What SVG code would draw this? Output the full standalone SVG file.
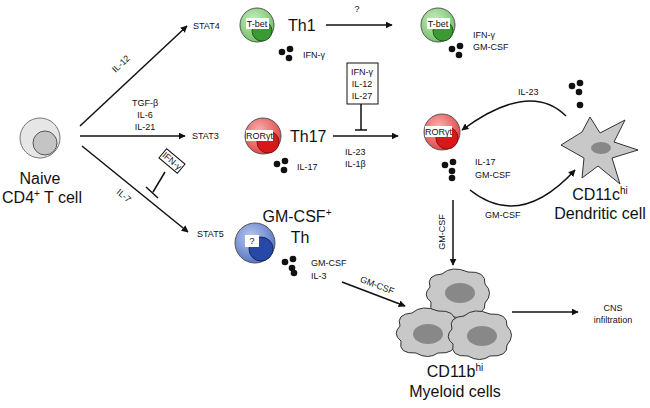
<svg xmlns="http://www.w3.org/2000/svg" width="650" height="408" viewBox="0 0 650 408">
<style>
text{font-family:"Liberation Sans",Arial,sans-serif;fill:#111}
.s{font-size:9px}.m{font-size:10px}.b{font-size:16px}
.ln{stroke:#111;stroke-width:1.5;fill:none}
</style>
<defs>
<marker id="ah" viewBox="0 0 10 10" refX="9" refY="5" markerWidth="7" markerHeight="7" orient="auto" markerUnits="userSpaceOnUse"><path d="M0,0L10,5L0,10z" fill="#111"/></marker>
<radialGradient id="gg" cx="0.4" cy="0.35" r="0.7"><stop offset="0" stop-color="#c8ecc0"/><stop offset="1" stop-color="#6cc060"/></radialGradient>
<radialGradient id="gr" cx="0.4" cy="0.35" r="0.7"><stop offset="0" stop-color="#f8b0b0"/><stop offset="1" stop-color="#e04040"/></radialGradient>
<radialGradient id="gb" cx="0.4" cy="0.35" r="0.7"><stop offset="0" stop-color="#b8c8ee"/><stop offset="1" stop-color="#5070c0"/></radialGradient>
<path id="my" d="M-28,-6 Q-32,-18 -16,-19 Q-6,-28 10,-21 Q28,-22 27,-9 Q36,0 27,10 Q28,22 10,21 Q0,28 -12,21 Q-30,22 -27,9 Q-36,2 -28,-6Z" fill="#c8c8c8" stroke="#333" stroke-width="1"/>
<g id="dots"><circle cx="0" cy="0" r="3.3" fill="#111"/><circle cx="8" cy="-3" r="3.3" fill="#111"/><circle cx="7" cy="6" r="3.3" fill="#111"/></g>
</defs>
<g id="connectors">
<path class="ln" d="M80,126L187,26" marker-end="url(#ah)"/>
<path class="ln" d="M80,136L185,136" marker-end="url(#ah)"/>
<path class="ln" d="M82,146L188,232" marker-end="url(#ah)"/>
<path class="ln" d="M165,172L153,192M146,187L158,198"/>
<path class="ln" d="M326,25L392,25" marker-end="url(#ah)"/>
<path class="ln" d="M333,136L398,136" marker-end="url(#ah)"/>
<path class="ln" d="M361,104L361,130M355,130L367,130"/>
<path class="ln" d="M566,116Q530,80 462,130" marker-end="url(#ah)"/>
<path class="ln" d="M470,190Q520,230 575,170" marker-end="url(#ah)"/>
<path class="ln" d="M453,200L453,265" marker-end="url(#ah)"/>
<path class="ln" d="M342,282L405,306" marker-end="url(#ah)"/>
<path class="ln" d="M512,312L578,312" marker-end="url(#ah)"/>
</g>
<g id="labels">
<text class="s" transform="translate(123,66) rotate(-43)" text-anchor="middle">IL-12</text>
<text class="s" x="145" y="106" text-anchor="middle">TGF-β</text>
<text class="s" x="145" y="118" text-anchor="middle">IL-6</text>
<text class="s" x="145" y="130" text-anchor="middle">IL-21</text>
<text class="s" transform="translate(122,198) rotate(40)" text-anchor="middle">IL-7</text>
<g transform="translate(172,161) rotate(40)"><rect x="-12" y="-6" width="24" height="12" fill="#fff" stroke="#111"/><text class="s" x="0" y="3" text-anchor="middle">IFN-γ</text></g>
<text class="s" x="357" y="12" text-anchor="middle">?</text>
<rect x="347" y="63" width="31" height="41" fill="#fff" stroke="#111"/>
<text class="s" x="362" y="75" text-anchor="middle">IFN-γ</text>
<text class="s" x="362" y="87" text-anchor="middle">IL-12</text>
<text class="s" x="362" y="99" text-anchor="middle">IL-27</text>
<text class="s" x="345" y="155">IL-23</text>
<text class="s" x="345" y="167">IL-1β</text>
<text class="s" x="518" y="95">IL-23</text>
<text class="s" x="485" y="218">GM-CSF</text>
<text class="s" transform="translate(445,232) rotate(-90)" text-anchor="middle">GM-CSF</text>
<text class="s" transform="translate(376,288) rotate(21)" text-anchor="middle">GM-CSF</text>
</g>
<g id="naive">
<circle cx="40" cy="138" r="20" fill="#e6e6e6" stroke="#777"/>
<circle cx="45" cy="143" r="12" fill="#c4c4c4" stroke="#555"/>
<text class="b" x="40" y="184" text-anchor="middle">Naive</text>
<text class="b" x="42" y="203" text-anchor="middle">CD4<tspan font-size="10" dy="-6">+</tspan><tspan dy="6"> T cell</tspan></text>
</g>
<g id="stat"><text class="s" x="193" y="29">STAT4</text><text class="s" x="192" y="139">STAT3</text><text class="s" x="197" y="237">STAT5</text></g>
<g id="th1">
<circle cx="257" cy="25" r="17" fill="url(#gg)" stroke="#555"/>
<circle cx="262" cy="31" r="10" fill="#3a9a34" stroke="#1d5a1a"/>
<rect x="246" y="18" width="23" height="11" fill="#fff"/>
<text class="s" x="257" y="27" text-anchor="middle">T-bet</text>
<text class="b" x="288" y="31">Th1</text>
<use href="#dots" x="282" y="52"/>
<text class="s" x="303" y="58">IFN-γ</text>
</g>
<g id="th1b">
<circle cx="438" cy="25" r="17" fill="url(#gg)" stroke="#555"/>
<circle cx="443" cy="31" r="10" fill="#3a9a34" stroke="#1d5a1a"/>
<rect x="427" y="18" width="23" height="11" fill="#fff"/>
<text class="s" x="438" y="27" text-anchor="middle">T-bet</text>
<use href="#dots" x="452" y="49"/>
<text class="s" x="473" y="38">IFN-γ</text>
<text class="s" x="473" y="50">GM-CSF</text>
</g>
<g id="th17">
<circle cx="263" cy="136" r="18" fill="url(#gr)" stroke="#555"/>
<circle cx="268" cy="142" r="11" fill="#d81818" stroke="#801010"/>
<rect x="246" y="130" width="27" height="11" fill="#fff"/>
<text class="s" x="259.5" y="139" text-anchor="middle">RORγt</text>
<text class="b" x="290" y="142">Th17</text>
<use href="#dots" x="277" y="164"/>
<text class="s" x="297" y="170">IL-17</text>
</g>
<g id="th17b">
<circle cx="442" cy="132" r="18" fill="url(#gr)" stroke="#555"/>
<circle cx="447" cy="138" r="11" fill="#d81818" stroke="#801010"/>
<rect x="425" y="126" width="27" height="11" fill="#fff"/>
<text class="s" x="438.5" y="135" text-anchor="middle">RORγt</text>
<use href="#dots" x="445" y="165"/>
<circle cx="452" cy="178" r="3.3" fill="#111"/>
<text class="s" x="475" y="165">IL-17</text>
<text class="s" x="475" y="178">GM-CSF</text>
</g>
<g id="dc">
<use href="#dots" x="572" y="86"/>
<circle cx="580" cy="105" r="3.3" fill="#111"/>
<path d="M561,145L582,132L590,117L600,133L625,120L614,142L638,150L612,158L620,184L598,166L582,178L584,158Z" fill="#c8c8c8" stroke="#333" stroke-linejoin="round"/>
<ellipse cx="601" cy="148" rx="10" ry="6" fill="#888"/>
<text class="b" x="600" y="200" text-anchor="middle">CD11c<tspan font-size="10" dy="-6">hi</tspan></text>
<text class="b" x="600" y="219" text-anchor="middle">Dendritic cell</text>
</g>
<g id="gmth">
<circle cx="255" cy="243" r="20" fill="url(#gb)" stroke="#555"/>
<circle cx="261" cy="249" r="12" fill="#2848a8" stroke="#142860"/>
<rect x="245" y="235" width="14" height="12" fill="#fff"/>
<text class="s" x="252" y="244" text-anchor="middle">?</text>
<text class="b" x="297" y="222" text-anchor="middle">GM-CSF<tspan font-size="10" dy="-6">+</tspan></text>
<text class="b" x="300" y="243" text-anchor="middle">Th</text>
<use href="#dots" x="285" y="262"/>
<circle cx="294" cy="273" r="3.3" fill="#111"/>
<text class="s" x="311" y="266">GM-CSF</text>
<text class="s" x="311" y="279">IL-3</text>
</g>
<g id="myeloid">
<use href="#my" x="458" y="293"/><ellipse cx="460" cy="293" rx="15" ry="10" fill="#888"/>
<use href="#my" x="428" y="332"/><ellipse cx="428" cy="334" rx="15" ry="10" fill="#888"/>
<use href="#my" x="480" y="335"/><ellipse cx="482" cy="336" rx="15" ry="10" fill="#888"/>
<text class="b" x="455" y="377" text-anchor="middle">CD11b<tspan font-size="10" dy="-6">hi</tspan></text>
<text class="b" x="455" y="397" text-anchor="middle">Myeloid cells</text>
</g>
<g id="cns"><text class="s" x="613" y="311" text-anchor="middle">CNS</text><text class="s" x="613" y="323" text-anchor="middle">infiltration</text></g>
</svg>
